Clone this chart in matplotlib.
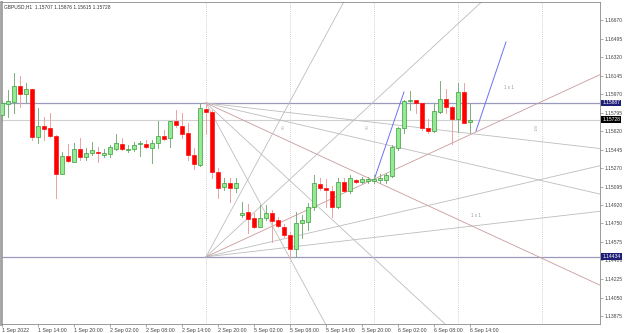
import matplotlib.pyplot as plt
from matplotlib.patches import Rectangle
from matplotlib.transforms import blended_transform_factory

plt.rcParams['font.family'] = ['Liberation Sans', 'DejaVu Sans']

# GBPUSD H1 candles, 1 Sep 2022 08:00 .. 6 Sep 14:00 (weekend skipped)
opens = [1.15773, 1.15874, 1.15899, 1.16047, 1.15974, 1.16016, 1.15568, 1.15672, 1.15647, 1.15575,
         1.15219, 1.15383, 1.15332, 1.15449, 1.15379, 1.15411, 1.15424, 1.15398, 1.15408, 1.15455,
         1.15499, 1.15446, 1.15449, 1.15495, 1.15499, 1.15459, 1.15506, 1.15575, 1.15553, 1.15716,
         1.15672, 1.15600, 1.15395, 1.15301, 1.15830, 1.15801, 1.15238, 1.15093, 1.15131, 1.15084,
         1.14826, 1.14857, 1.14798, 1.14718, 1.14798, 1.14845, 1.14784, 1.14718, 1.14640, 1.14512,
         1.14756, 1.14765, 1.14901, 1.15119, 1.15081, 1.15058, 1.14907, 1.15141, 1.15058, 1.15156,
         1.15137, 1.15153, 1.15153, 1.15161, 1.15161, 1.15197, 1.15459, 1.15647, 1.15903, 1.15912,
         1.15889, 1.15653, 1.15625, 1.15804, 1.15924, 1.15846, 1.15733, 1.15993, 1.15707]
highs = [1.15915, 1.16009, 1.16167, 1.16144, 1.16072, 1.16020, 1.15836, 1.15757, 1.15789, 1.15580,
         1.15427, 1.15499, 1.15506, 1.15553, 1.15459, 1.15521, 1.15468, 1.15449, 1.15490, 1.15594,
         1.15553, 1.15490, 1.15521, 1.15530, 1.15537, 1.15537, 1.15716, 1.15631, 1.15719, 1.15820,
         1.15789, 1.15700, 1.15459, 1.15889, 1.15889, 1.15820, 1.15273, 1.15178, 1.15178, 1.15178,
         1.14954, 1.14933, 1.14845, 1.14923, 1.14923, 1.14876, 1.14813, 1.14744, 1.14671, 1.14860,
         1.14829, 1.14939, 1.15206, 1.15175, 1.15166, 1.15103, 1.15178, 1.15175, 1.15206, 1.15173,
         1.15188, 1.15188, 1.15206, 1.15213, 1.15222, 1.15490, 1.15663, 1.15915, 1.16003, 1.15915,
         1.15889, 1.15733, 1.15884, 1.16094, 1.16021, 1.15860, 1.16072, 1.16078, 1.15876]
lows = [1.15719, 1.15751, 1.15795, 1.15851, 1.15884, 1.15537, 1.15511, 1.15537, 1.15562, 1.14986,
        1.15212, 1.15332, 1.15328, 1.15348, 1.15348, 1.15395, 1.15332, 1.15374, 1.15379, 1.15443,
        1.15443, 1.15427, 1.15436, 1.15389, 1.15459, 1.15317, 1.15459, 1.15537, 1.15468, 1.15663,
        1.15553, 1.15348, 1.15260, 1.15291, 1.15594, 1.15178, 1.14985, 1.15065, 1.14954, 1.15046,
        1.14810, 1.14656, 1.14703, 1.14713, 1.14784, 1.14577, 1.14718, 1.14624, 1.14420, 1.14435,
        1.14609, 1.14687, 1.14876, 1.15065, 1.14907, 1.14813, 1.14895, 1.15049, 1.15034, 1.15128,
        1.15131, 1.15131, 1.15128, 1.15131, 1.15131, 1.15190, 1.15443, 1.15600, 1.15820, 1.15789,
        1.15631, 1.15600, 1.15615, 1.15789, 1.15789, 1.15499, 1.15615, 1.15695, 1.15615]
closes = [1.15884, 1.15903, 1.16047, 1.15974, 1.16019, 1.15568, 1.15669, 1.15638, 1.15575, 1.15219,
          1.15386, 1.15336, 1.15449, 1.15379, 1.15411, 1.15443, 1.15411, 1.15411, 1.15468, 1.15506,
          1.15449, 1.15452, 1.15490, 1.15506, 1.15468, 1.15506, 1.15575, 1.15549, 1.15716, 1.15677,
          1.15594, 1.15395, 1.15310, 1.15836, 1.15804, 1.15238, 1.15081, 1.15131, 1.15084, 1.15131,
          1.14850, 1.14794, 1.14718, 1.14798, 1.14845, 1.14775, 1.14725, 1.14640, 1.14512, 1.14756,
          1.14784, 1.14901, 1.15128, 1.15081, 1.15065, 1.14907, 1.15141, 1.15058, 1.15175, 1.15137,
          1.15166, 1.15166, 1.15172, 1.15175, 1.15206, 1.15468, 1.15647, 1.15905, 1.15915, 1.15889,
          1.15647, 1.15625, 1.15814, 1.15922, 1.15846, 1.15733, 1.15993, 1.15700, 1.15728]

time_labels = ['1 Sep 2022', '1 Sep 14:00', '1 Sep 20:00', '2 Sep 02:00', '2 Sep 08:00',
               '2 Sep 14:00', '2 Sep 20:00', '5 Sep 02:00', '5 Sep 08:00', '5 Sep 14:00',
               '5 Sep 20:00', '6 Sep 02:00', '6 Sep 08:00', '6 Sep 14:00']
price_ticks = [1.16670, 1.16495, 1.16320, 1.16145, 1.15970, 1.15795, 1.15620, 1.15445, 1.15270,
               1.15095, 1.14920, 1.14750, 1.14575, 1.14400, 1.14225, 1.14050, 1.13875]

# drawn objects
hlines = [1.15887, 1.14434]
bid = 1.15728
fan_bar = 34
fan_top = 1.15887
fan_bottom = 1.14434
fan_step = 0.000262          # price per bar of the 1x1 line
fan_ratios = [1/4, 1/2, 1, 2, 4]
cycle_bars = [34, 48, 62, 76, 90]
cycle_texts = ['', '50', '50', '', '100']
channel_x = [[62, 67], [79, 84]]
channel_y = [[1.15159, 1.15990], [1.15622, 1.16462]]

fig = plt.figure(figsize=(6.25, 3.33), dpi=100)
ax = fig.add_axes([1/625, 9/333, 599/625, 322.5/333])
ax.set_xlim(-1/6, 99.67)
ax.set_ylim(1.13800, 1.16845)

# cycle lines
for b, txt in zip(cycle_bars, cycle_texts):
    ax.axvline(b, color='#c4c4c4', lw=0.6, ls=(0, (1, 1.5)), zorder=1)
    if txt:
        ax.text(b - 0.6, 1.15660, txt, rotation=90, fontsize=3.2, color='#b0b0b0',
                ha='right', va='center')

# horizontal lines
for h in hlines:
    ax.axhline(h, color='#9a9abf', lw=0.9, zorder=2)
ax.axhline(bid, color='#d0d0d0', lw=0.8, zorder=2)

# gann fans
for r in fan_ratios:
    col = '#c99a9a' if r == 1 else '#bdbdbd'
    ax.plot([fan_bar, 200], [fan_bottom, fan_bottom + r * fan_step * (200 - fan_bar)],
            color=col, lw=0.6, zorder=2)
    ax.plot([fan_bar, 200], [fan_top, fan_top - r * fan_step * (200 - fan_bar)],
            color=col, lw=0.6, zorder=2)
ax.text(84.5, 1.16012, '1 x 1', fontsize=3.3, color='#999999', ha='center', va='bottom')
ax.text(79, 1.14800, '1 x 1', fontsize=3.3, color='#999999', ha='center', va='bottom')

# blue channel lines
for xs, ys in zip(channel_x, channel_y):
    ax.plot(xs, ys, color='#6f6ff5', lw=0.7, zorder=3)

# candles
for i in range(len(opens)):
    o, h, l, c = opens[i], highs[i], lows[i], closes[i]
    up = c >= o
    ax.plot([i, i], [l, h], color='#7caf7c' if up else '#eba3a3', lw=0.7, zorder=4)
    face = '#92ea92' if up else '#ff0000'
    edge = '#3c9c3c' if up else '#ff1010'
    ax.add_patch(Rectangle((i - 0.38, min(o, c)), 0.76, max(abs(c - o), 0.00002),
                           facecolor=face, edgecolor=edge, lw=0.5, zorder=5))

# axes styling
for s in ax.spines.values():
    s.set_color('#8a8a8a')
    s.set_linewidth(0.6)
ax.spines['left'].set_linewidth(2.0)
ax.spines['left'].set_color('#a0a0a0')

ax.yaxis.tick_right()
ax.set_yticks(price_ticks, ['%.5f' % p for p in price_ticks])
ax.tick_params(axis='y', length=2, width=0.5, pad=1.5, labelsize=3.6, colors='#8a8a8a',
               labelcolor='#444444')
ax.set_xticks(range(0, 79, 6), time_labels)
ax.tick_params(axis='x', length=2, width=0.5, pad=1.2, labelsize=3.8, colors='#8a8a8a',
               labelcolor='#444444')
for t in ax.get_xticklabels():
    t.set_horizontalalignment('left')

trans = blended_transform_factory(ax.transAxes, ax.transData)
for val, bg in [(1.15887, '#1e1e78'), (1.14434, '#1e1e78'), (bid, '#000000')]:
    ax.text(1.004, val, '%.5f' % val, transform=trans, fontsize=3.6, color='white',
            va='center', ha='left', zorder=10,
            bbox=dict(boxstyle='square,pad=0.18', facecolor=bg, edgecolor='none'))

fig.text(4/625, 1 - 7/333, 'GBPUSD,H1  1.15707 1.15876 1.15615 1.15728', fontsize=3.5,
         color='#333333', va='center', ha='left')

fig.savefig('out.png', dpi=100, facecolor='white')
